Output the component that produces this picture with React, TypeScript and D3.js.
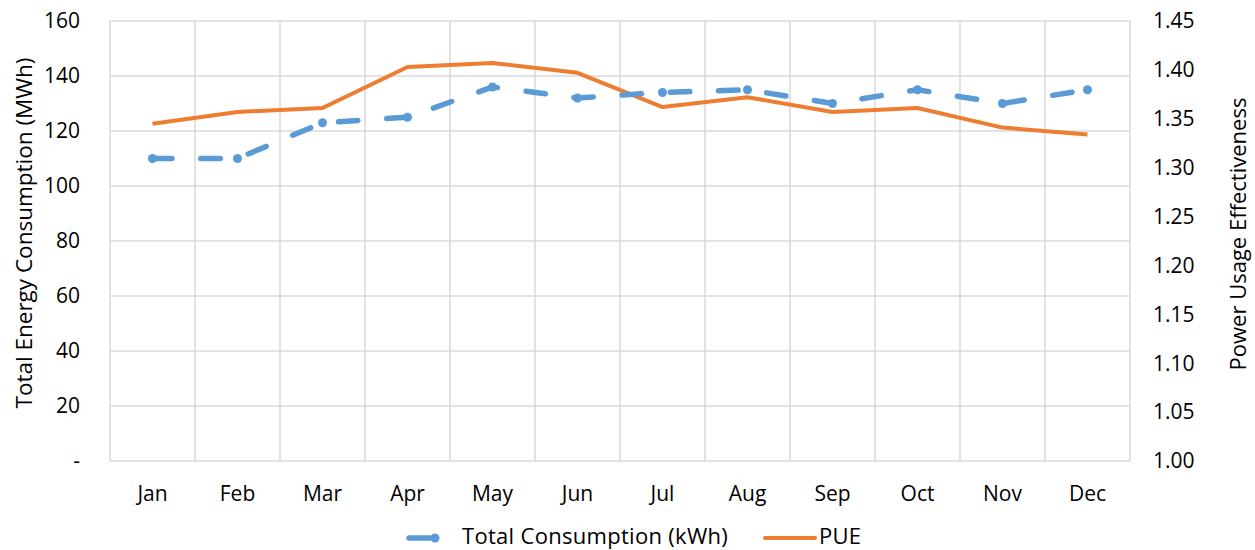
import * as d3 from "d3";

const months = ["Jan", "Feb", "Mar", "Apr", "May", "Jun", "Jul", "Aug", "Sep", "Oct", "Nov", "Dec"];
const consumption = [110, 110, 123, 125, 136, 132, 134, 135, 130, 135, 130, 135];
const pue = [1.345, 1.357, 1.361, 1.403, 1.407, 1.397, 1.362, 1.372, 1.357, 1.361, 1.341, 1.334];
const leftTicks = [0, 20, 40, 60, 80, 100, 120, 140, 160];
const rightTicks = [1.0, 1.05, 1.1, 1.15, 1.2, 1.25, 1.3, 1.35, 1.4, 1.45];

const W = 1255;
const H = 550;
const m = { left: 110, right: 125, top: 21, bottom: 89 };
const blue = "#5B9BD5";
const orange = "#ED7D31";
const font = "'Open Sans', Lato, sans-serif";

export default function App() {
  const x = d3.scaleBand<string>().domain(months).range([m.left, W - m.right]);
  const yL = d3.scaleLinear().domain([0, 160]).range([H - m.bottom, m.top]);
  const yR = d3.scaleLinear().domain([1.0, 1.45]).range([H - m.bottom, m.top]);
  const cx = (i: number) => (x(months[i]) ?? 0) + x.bandwidth() / 2;

  const lineL = d3.line<number>().x((_, i) => cx(i)).y((d) => yL(d));
  const lineR = d3.line<number>().x((_, i) => cx(i)).y((d) => yR(d));

  const edges = months.map((mo) => x(mo) ?? 0).concat([W - m.right]);

  return (
    <svg width={W} height={H} style={{ position: "absolute", left: 0, top: 0 }} fontFamily={font}>
      <rect width={W} height={H} fill="#fff" />
      {leftTicks.map((t) => (
        <line key={"h" + t} x1={m.left} x2={W - m.right} y1={yL(t)} y2={yL(t)} stroke="#d9d9d9" strokeWidth={1.5} />
      ))}
      {edges.map((e, i) => (
        <line key={"v" + i} x1={e} x2={e} y1={m.top} y2={H - m.bottom} stroke="#d9d9d9" strokeWidth={1.5} />
      ))}
      {leftTicks.map((t) => (
        <text key={"l" + t} x={80} y={yL(t)} dy="0.35em" textAnchor="end" fontSize={21} fill="#000">
          {t === 0 ? "-" : t}
        </text>
      ))}
      {rightTicks.map((t) => (
        <text key={"r" + t} x={1153} y={yR(t)} dy="0.35em" textAnchor="start" fontSize={21} fill="#000">
          {t.toFixed(2)}
        </text>
      ))}
      {months.map((mo, i) => (
        <text key={mo} x={cx(i)} y={501} textAnchor="middle" fontSize={21} fill="#000">
          {mo}
        </text>
      ))}
      <text transform="translate(32,233) rotate(-90)" textAnchor="middle" fontSize={22.5} fill="#000">
        Total Energy Consumption (MWh)
      </text>
      <text transform="translate(1246,234) rotate(-90)" textAnchor="middle" fontSize={22} fill="#000">
        Power Usage Effectiveness
      </text>

      <path d={lineR(pue) ?? ""} fill="none" stroke={orange} strokeWidth={4} strokeLinejoin="round" />
      <path
        d={lineL(consumption) ?? ""}
        fill="none"
        stroke={blue}
        strokeWidth={5.5}
        strokeLinecap="round"
        strokeDasharray="19.5 28.8"
      />
      {consumption.map((d, i) => (
        <circle key={"c" + i} cx={cx(i)} cy={yL(d)} r={4.5} fill={blue} />
      ))}

      <g>
        <line x1={409} x2={435} y1={538} y2={538} stroke={blue} strokeWidth={5.5} strokeLinecap="round" />
        <circle cx={435} cy={538} r={4.5} fill={blue} />
        <text x={462} y={544} fontSize={22} letterSpacing={0.3} fill="#000">
          Total Consumption (kWh)
        </text>
        <line x1={765} x2={815} y1={538} y2={538} stroke={orange} strokeWidth={4} strokeLinecap="round" />
        <text x={819} y={544} fontSize={22} letterSpacing={0.3} fill="#000">
          PUE
        </text>
      </g>
    </svg>
  );
}
